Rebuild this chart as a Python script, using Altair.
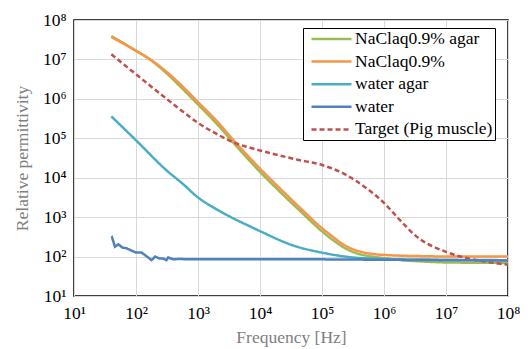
import altair as alt
import pandas as pd

SERIES = ["NaClaq0.9% agar", "NaClaq0.9%", "water agar", "water", "Target (Pig muscle)"]
COLORS = ["#9BBB59", "#F79646", "#4BACC6", "#4F81BD", "#C0504D"]

nacl_agar_f = [40, 100, 170, 309, 575, 1000, 2000, 3700, 10000, 27000, 44000, 100000, 150000, 220000, 300000, 520000, 700000, 1e6, 2e6, 4.9e6, 1e7, 1e8]
nacl_agar_e = [3.9e7, 1.66e7, 9.8e6, 4.5e6, 1.74e6, 7.2e5, 2.34e5, 7.8e4, 1.41e4, 3.0e3, 1.45e3, 437, 263, 174, 135, 105, 98, 91, 81, 74, 71, 69]

nacl_f = [40, 100, 170, 309, 575, 1000, 2000, 3700, 10000, 27000, 44000, 100000, 150000, 220000, 300000, 520000, 700000, 1e6, 2e6, 4.9e6, 1e7, 1e8]
nacl_e = [3.72e7, 1.66e7, 1.0e7, 4.9e6, 2.0e6, 8.3e5, 2.75e5, 9.1e4, 1.7e4, 3.63e3, 1.74e3, 525, 316, 204, 158, 123, 115, 110, 105, 102, 100, 100]

water_agar_f = [40, 100, 309, 562, 1000, 2000, 3700, 6900, 10000, 34700, 100000, 316000, 1e6, 1e7, 1e8]
water_agar_e = [3.6e5, 8.9e4, 1.55e4, 7.1e3, 3.16e3, 1.58e3, 933, 582, 442, 190, 126, 95, 87, 83, 81]

water_f = [40, 41, 45.8, 51.9, 60, 70.8, 85, 100, 123, 148, 178, 204, 240, 275, 309, 331, 398, 500, 700, 1000, 1e4, 1e5, 1e6, 1e7, 1e8]
water_e = [300, 309, 178, 204, 170, 162, 141, 126, 126, 102, 81, 100, 89, 89, 81, 95, 85, 87, 85, 85, 85, 85, 83, 81, 79]

target_f = [40, 100, 355, 631, 1000, 2000, 3700, 6900, 10000, 38900, 100000, 220000, 520000, 1e6, 1.8e6, 3.4e6, 1e7, 1.7e7, 4e7, 1e8]
target_e = [1.35e7, 4.2e6, 8.5e5, 4.2e5, 2.45e5, 1.29e5, 7.9e4, 5.75e4, 4.9e4, 2.9e4, 2.1e4, 1.29e4, 5.4e3, 2.3e3, 850, 316, 132, 100, 76, 62]

TICKS = [10, 100, 1000, 1e4, 1e5, 1e6, 1e7, 1e8]

rows = []
for name, fs, es in [
    (SERIES[0], nacl_agar_f, nacl_agar_e),
    (SERIES[1], nacl_f, nacl_e),
    (SERIES[2], water_agar_f, water_agar_e),
    (SERIES[3], water_f, water_e),
    (SERIES[4], target_f, target_e),
]:
    for i, (f, e) in enumerate(zip(fs, es)):
        rows.append({"f": f, "eps": e, "series": name, "order": i})
df = pd.DataFrame(rows)

label_expr = "'10' + ['\u2070','\u00b9','\u00b2','\u00b3','\u2074','\u2075','\u2076','\u2077','\u2078'][round(log(datum.value)/LN10)]"
FONT = "Liberation Serif"

x = alt.X("f:Q", scale=alt.Scale(type="log", domain=[10, 1e8], nice=False),
          axis=alt.Axis(values=TICKS, labelExpr=label_expr, title="Frequency [Hz]",
                        labelFlush=False, labelOverlap=False, labelPadding=8,
                        titleX=217, titleY=41, titleBaseline="middle", titleAlign="center"))
y = alt.Y("eps:Q", scale=alt.Scale(type="log", domain=[10, 1e8], nice=False),
          axis=alt.Axis(values=TICKS, labelExpr=label_expr, title="Relative permittivity",
                        labelOverlap=False, labelPadding=8, labelFlush=False,
                        titleX=-52, titleY=138, titleAngle=-90, titleBaseline="middle", titleAlign="center"))
legend = alt.Legend(title=None, orient="none", legendX=229, legendY=8,
                    labelFont=FONT, labelFontSize=17.5, labelColor="black")
color = alt.Color("series:N", scale=alt.Scale(domain=SERIES, range=COLORS), legend=legend)
dash = alt.StrokeDash("series:N", scale=alt.Scale(domain=SERIES, range=[[1, 0], [1, 0], [1, 0], [1, 0], [5, 3]]),
                      legend=legend)

base = alt.Chart(df)
smooth = base.transform_filter(alt.datum.series != "water").mark_line(
    strokeWidth=2.5, interpolate="monotone").encode(x=x, y=y, color=color, strokeDash=dash, order="order:Q")
rough = base.transform_filter(alt.datum.series == "water").mark_line(
    strokeWidth=2.5).encode(x=x, y=y, color=color, strokeDash=dash, order="order:Q")

chart = alt.layer(smooth, rough).properties(
    width=434, height=276,
    autosize=alt.AutoSizeParams(type="none"),
    padding={"left": 66, "top": 12, "right": 12, "bottom": 53},
).configure(font=FONT).configure_view(stroke="black", strokeWidth=1.5).configure_axis(
    domain=False, ticks=False, grid=True, gridColor="#d9d9d9", gridWidth=1,
    labelFont=FONT, labelFontSize=17.5, labelColor="black",
    titleFont=FONT, titleFontSize=17.5, titleFontWeight="normal", titleColor="#7f7f7f",
).configure_legend(
    strokeColor="black", fillColor="white", padding=2,
    labelFont=FONT, labelFontSize=17.5, labelColor="black", labelLimit=300,
    symbolType="M-1,0L4.333,0", symbolSize=225, symbolStrokeWidth=2.5, symbolFillColor="transparent",
    symbolOffset=5, rowPadding=4.6, labelOffset=27,
)

chart.save("out.html", embed_options={"renderer": "svg", "actions": False})
